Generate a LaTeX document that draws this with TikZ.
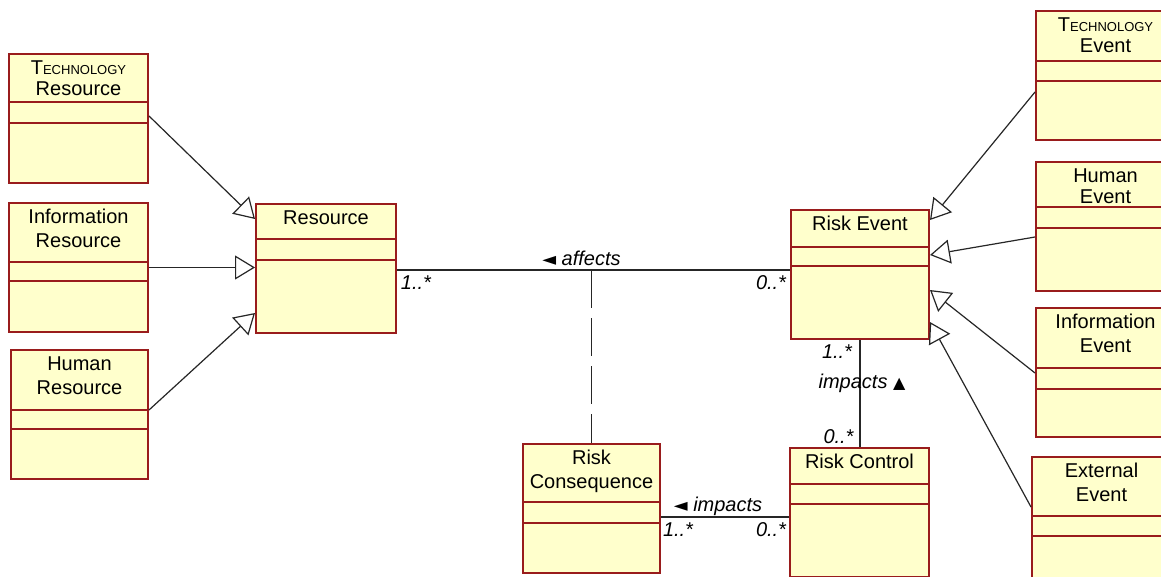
\documentclass[tikz,border=0pt]{standalone}
\usepackage{fontspec}
\setmainfont{Liberation Sans}
\newfontfamily\symfont{DejaVu Sans}
\usetikzlibrary{arrows.meta,calc}

\definecolor{classred}{RGB}{153,28,28}
\definecolor{classfill}{RGB}{255,255,204}

\tikzset{
  classbox/.style={draw=classred, fill=classfill, line width=1pt, anchor=north west,
    inner sep=0pt, minimum height=64.5pt},
  sepline/.style={draw=classred, line width=1pt},
  classname/.style={font=\fontsize{10}{12}\selectfont, align=center, anchor=north, inner sep=0pt},
  assoc/.style={line width=0.6pt, black!85},
  gen/.style={assoc, -{Triangle[open, length=10pt, width=12pt]}},
  mult/.style={font=\fontsize{10}{12}\selectfont\itshape, inner sep=0pt},
}

% 类框：名称, x, y, 宽度, 第一条分隔线, 第二条分隔线, 类名
\newcommand{\umlclass}[7]{%
  \node[classbox, minimum width=#4*0.5pt] (#1) at (#2,#3) {};
  \draw[sepline] ($(#1.north west)+(2,#5)$) -- ($(#1.north east)+(-2,#5)$);
  \draw[sepline] ($(#1.north west)+(2,#6)$) -- ($(#1.north east)+(-2,#6)$);
  \node[classname] (#1-name) at ($(#1.north)+(0,7)$) {#7};
}
\newcommand{\smallcaps}[1]{{\fontsize{6.5}{8}\selectfont #1}}
\newcommand{\readleft}{{\upshape\symfont\fontsize{9}{9}\selectfont ◄}}
\newcommand{\readup}{{\upshape\symfont\fontsize{8}{8}\selectfont ▲}}

\begin{document}
\begin{tikzpicture}[x=0.5pt, y=-0.5pt]
  % 画布大小
  \fill[white] (0,0) rectangle (1161,577);
  \useasboundingbox (0,0) rectangle (1161,577);

  % 左侧的资源类
  \umlclass{techres}{8}{53}{139}{49}{70}{T\smallcaps{ECHNOLOGY}\\[-1.5pt]Resource}
  \umlclass{infores}{8}{202}{139}{60}{79}{Information\\Resource}
  \umlclass{humanres}{10}{349}{137}{61}{80}{Human\\Resource}
  \umlclass{resource}{255}{203}{140}{36}{57}{Resource}

  % 中间的风险类
  \umlclass{riskevent}{790}{209}{138}{38}{57}{Risk Event}
  \umlclass{consequence}{522}{443}{137}{59}{80}{Risk\\Consequence}
  \umlclass{control}{789}{447}{139}{37}{57}{Risk Control}

  % 右侧的事件类
  \umlclass{techevent}{1035}{10}{139}{51}{71}{T\smallcaps{ECHNOLOGY}\\[-1.5pt]Event}
  \umlclass{humanevent}{1035}{161}{139}{46}{67}{Human\\[-1.5pt]Event}
  \umlclass{infoevent}{1035}{307}{139}{61}{82}{Information\\Event}
  \umlclass{extevent}{1031}{456}{139}{60}{80}{External\\Event}

  % 泛化关系
  \draw[gen] ($(techres.north east)+(0,63)$) -- ($(resource.north west)+(0,16)$);
  \draw[gen] (infores.east) -- (infores.east -| resource.west);
  \draw[gen] ($(humanres.north east)+(0,61)$) -- ($(resource.north west)+(0,110)$);
  \draw[gen] ($(techevent.north west)+(0,82)$) -- ($(riskevent.north east)+(0,11)$);
  \draw[gen] ($(humanevent.north west)+(0,76)$) -- ($(riskevent.north east)+(0,46)$);
  \draw[gen] ($(infoevent.north west)+(0,66)$) -- ($(riskevent.north east)+(0,81)$);
  \draw[gen] ($(extevent.north west)+(0,51)$) -- ($(riskevent.north east)+(0,113)$);

  % 关联 affects 及关联类
  \coordinate (affL) at ($(resource.north east)+(0,67)$);
  \coordinate (affR) at (affL -| riskevent.west);
  \draw[assoc] (affL) -- (affR);
  \draw[assoc, dash pattern=on 19pt off 5pt] (consequence.north |- affL) -- (consequence.north);
  \node[mult] (affname) at ($(affL)!0.5!(affR)+(-12,-12)$) {\readleft\ affects};
  \node[mult] (affmL) at ($(affL)+(19,13)$) {1..*};
  \node[mult] (affmR) at ($(affR)+(-19,13)$) {0..*};

  % 关联 impacts（风险事件 - 风险控制）
  \draw[assoc] (riskevent.south) -- (riskevent.south |- control.north);
  \node[mult] (impname) at ($(riskevent.south)+(2,43)$) {impacts \readup};
  \node[mult] (impmT) at ($(riskevent.south)+(-23,12)$) {1..*};
  \node[mult] (impmB) at ($(control.north)+(-21,-10)$) {0..*};

  % 关联 impacts（风险后果 - 风险控制）
  \coordinate (cnsL) at ($(consequence.north east)+(0,74)$);
  \coordinate (cnsR) at (cnsL -| control.west);
  \draw[assoc] (cnsL) -- (cnsR);
  \node[mult] (cnsname) at ($(cnsL)+(57,-11)$) {\readleft\ impacts};
  \node[mult] (cnsmL) at ($(cnsL)+(17,13)$) {1..*};
  \node[mult] (cnsmR) at ($(cnsR)+(-18,13)$) {0..*};
\end{tikzpicture}
\end{document}
